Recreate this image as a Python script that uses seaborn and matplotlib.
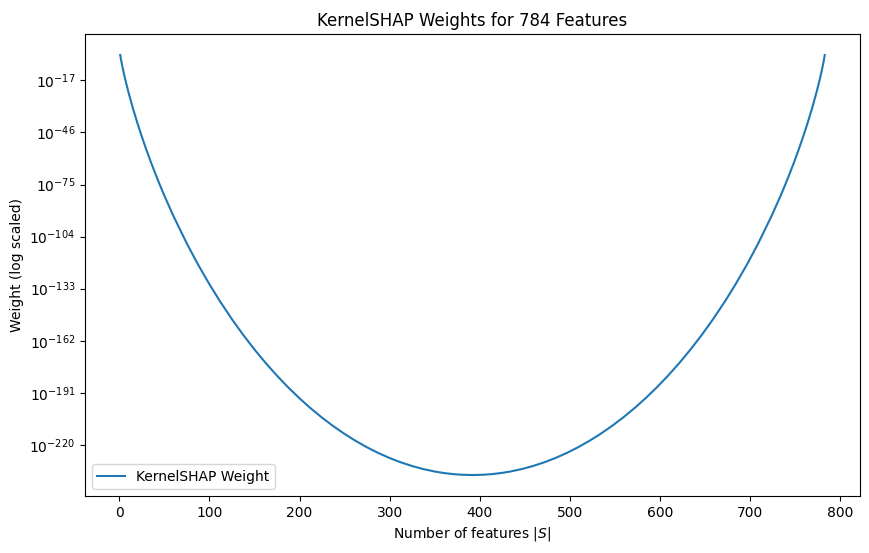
import matplotlib
matplotlib.use("Agg")
import matplotlib.pyplot as plt
import seaborn as sns
import numpy as np
import pandas as pd

# Coalition size |S| and log10 of the KernelSHAP weight
coalition_size = [1, 2, 3, 5, 7, 10, 15, 20, 25, 30, 35, 40, 45, 50, 60, 75, 87,
                  100, 112, 125, 137, 150, 162, 175, 187, 200, 212, 225, 237,
                  250, 262, 275, 287, 300, 312, 325, 337, 350, 360, 370, 380, 392,
                  404, 414, 424, 434, 447, 459, 472, 484, 497, 509, 522, 534,
                  547, 559, 572, 584, 597, 609, 622, 634, 647, 659, 672, 684,
                  697, 709, 724, 734, 739, 744, 749, 754, 759, 764, 769, 774,
                  777, 779, 781, 782, 783]
log10_weight = [-2.894, -5.787, -8.379, -13.084, -17.393, -23.353, -32.410,
                -40.685, -48.385, -55.623, -62.478, -69.003, -75.236, -81.214,
                -92.477, -107.923, -119.218, -130.537, -140.232, -149.997,
                -158.386, -166.848, -174.121, -181.448, -187.731, -194.041,
                -199.426, -204.804, -209.360, -213.869, -217.647, -221.336,
                -224.374, -227.278, -229.606, -231.752, -233.388, -234.796,
                -235.617, -236.218, -236.594, -236.756,
                -236.594, -236.218, -235.617, -234.796, -233.388, -231.752,
                -229.606, -227.278, -224.374, -221.336, -217.647, -213.869,
                -209.360, -204.804, -199.426, -194.041, -187.731, -181.448,
                -174.121, -166.848, -158.386, -149.997, -140.232, -130.537,
                -119.218, -107.923, -92.477, -81.214, -75.236, -69.003,
                -62.478, -55.623, -48.385, -40.685, -32.410, -23.353,
                -17.393, -13.084, -8.379, -5.787, -2.894]

ytick_exponents = [-17, -46, -75, -104, -133, -162, -191, -220]

df = pd.DataFrame({"size": coalition_size,
                   "weight": 10.0 ** np.array(log10_weight)})

fig = plt.figure(figsize=(8.7, 5.53), dpi=100)
ax = fig.add_axes([0.0977, 0.103, 0.8908, 0.8355])
sns.lineplot(data=df, x="size", y="weight", ax=ax, label="KernelSHAP Weight",
             color="#1f77b4", linewidth=1.5)
ax.set_yscale("log")
ax.autoscale_view()
ax.set_yticks([10.0 ** e for e in ytick_exponents])
ax.minorticks_off()
ax.set_title("KernelSHAP Weights for 784 Features")
ax.set_xlabel("Number of features $|S|$")
ax.set_ylabel("Weight (log scaled)")
ax.legend(loc="lower left")
fig.savefig("out.png", dpi=100)
